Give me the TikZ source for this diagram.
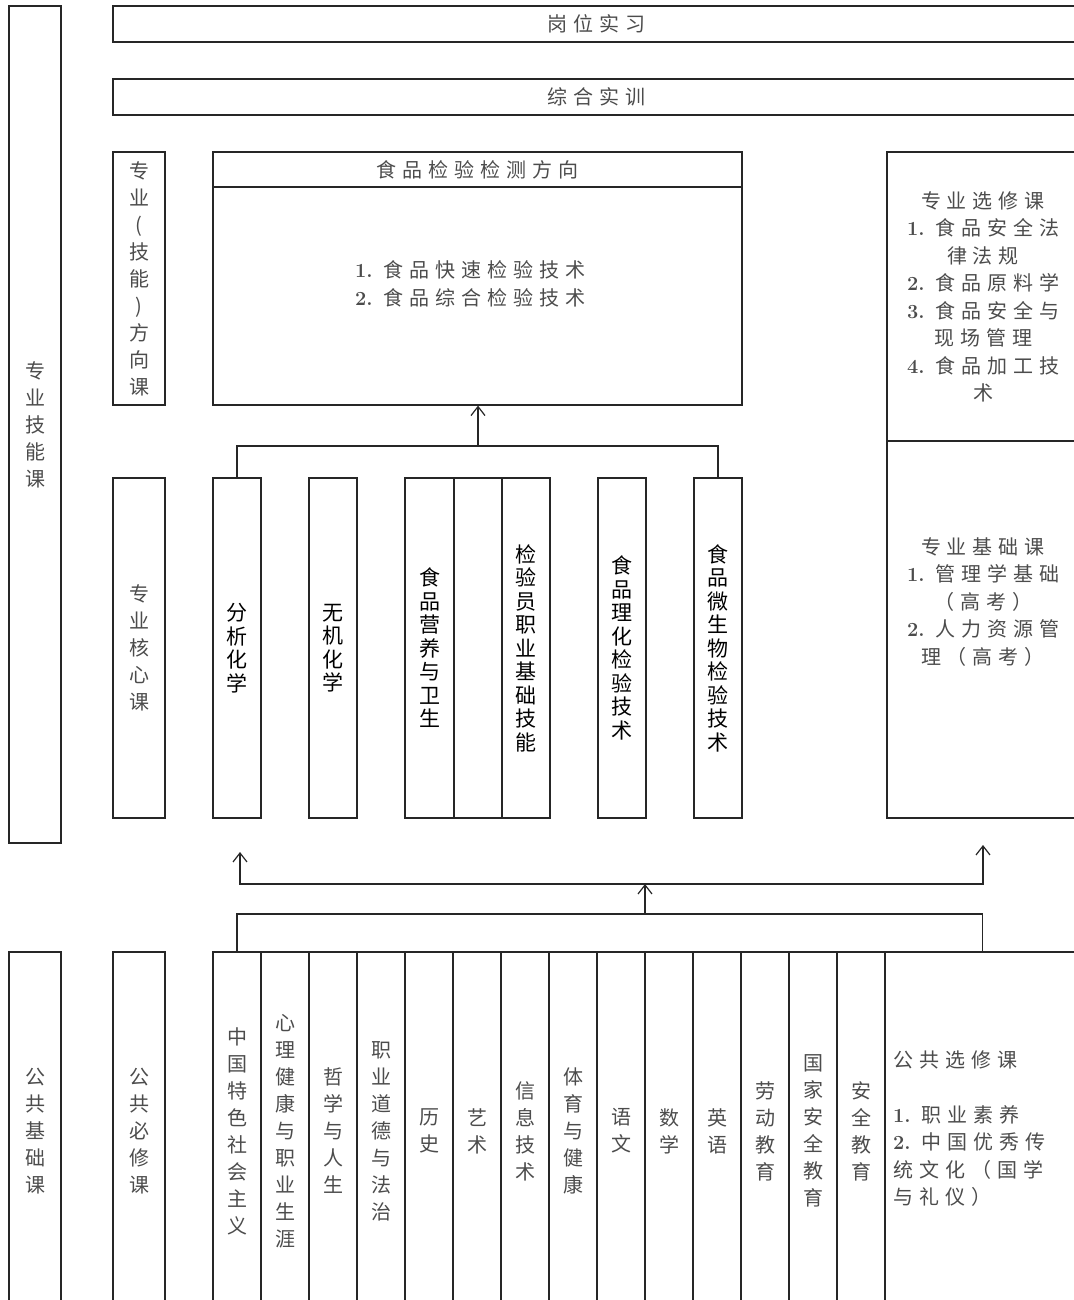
\documentclass[tikz,border=0pt]{standalone}
\usepackage{fontspec}
\setmainfont{Noto Sans CJK SC}
\newfontfamily\widecjk[LetterSpace=30]{Noto Sans CJK SC}
\newfontfamily\numfont{Latin Modern Roman}
\newcommand{\nr}[1]{{\numfont\bfseries #1}\ }
\usetikzlibrary{arrows.meta}

\tikzset{
  frame/.style={draw=black!85, line width=1.2pt, inner sep=0pt},
  lab/.style={text=black!70, align=center, font=\fontsize{20}{27}\selectfont},
  wide/.style={text=black!70, inner sep=0pt, font=\widecjk\fontsize{20}{27.5}\selectfont},
  course/.style={frame, minimum width=48pt, minimum height=340pt, align=center, font=\fontsize{21}{23.5}\selectfont},
  pub/.style={frame, lab, minimum width=48pt, minimum height=358pt},
  link/.style={line width=1.2pt, black!85},
  arrow/.style={link, -{Straight Barb[length=9pt,width=14pt]}}
}

\begin{document}
\begin{tikzpicture}[x=1pt,y=-1pt]
  \useasboundingbox (0,0) rectangle (1073,1300);
  % left column
  \node[frame, lab, minimum width=52pt, minimum height=837pt] (zyjn) at (35,424.5) {专\\业\\技\\能\\课};
  \node[frame, lab, minimum width=52pt, minimum height=358pt] (ggjc) at (35,1131) {公\\共\\基\\础\\课};

  % top bars
  \node[frame, wide, minimum width=967pt, minimum height=36pt] (gwsx) at (596.5,24) {岗位实习};
  \node[frame, wide, minimum width=967pt, minimum height=36pt] (zhsx) at (596.5,97) {综合实训};

  % direction courses
  \node[frame, lab, minimum width=52pt, minimum height=253pt] (fxk) at (139,278.5) {专\\业\\(\\技\\能\\)\\方\\向\\课};
  \node[frame, wide, minimum width=529pt, minimum height=35pt] (fxhead) at (477.5,169.5) {食品检验检测方向};
  \node[frame, minimum width=529pt, minimum height=218pt] (fxbody) at (477.5,296) {};
  \node[wide, align=left] (fxtext) at (470,284) {\nr{1.}食品快速检验技术\\\nr{2.}食品综合检验技术};

  % right column
  \node[frame, minimum width=193pt, minimum height=289pt] (xxk) at (983.5,296.5) {};
  \node[wide, align=center] (xxtext) at (983,297) {专业选修课\\\nr{1.}食品安全法\\律法规\\\nr{2.}食品原料学\\\nr{3.}食品安全与\\现场管理\\\nr{4.}食品加工技\\术};
  \node[frame, minimum width=193pt, minimum height=377pt] (jck) at (983.5,629.5) {};
  \node[wide, align=center] (jctext) at (983,602) {专业基础课\\\nr{1.}管理学基础\\（高考）\\\nr{2.}人力资源管\\理（高考）};

  % core courses
  \node[frame, lab, minimum width=52pt, minimum height=340pt] (hxk) at (139,648) {专\\业\\核\\心\\课};
  \node[course] (fxhx) at (237,648) {分\\析\\化\\学};
  \node[course] (wjhx) at (333,648) {无\\机\\化\\学};
  \node[course, minimum width=49pt] (yyws) at (429.5,648) {食\\品\\营\\养\\与\\卫\\生};
  \node[course] (kong) at (478,648) {};
  \node[course] (jyy) at (526,648) {检\\验\\员\\职\\业\\基\\础\\技\\能};
  \node[course] (lhjy) at (622,648) {食\\品\\理\\化\\检\\验\\技\\术};
  \node[course] (wsjy) at (718,648) {食\\品\\微\\生\\物\\检\\验\\技\\术};

  \coordinate (hub) at (478,446);
  \draw[link] (fxhx.north) |- (hub) -| (wsjy.north);
  \draw[arrow] (hub) -- (hub |- fxbody.south);

  % public courses
  \node[frame, lab, minimum width=52pt, minimum height=358pt] (ggbx) at (139,1131) {公\\共\\必\\修\\课};
  \node[pub] (zgts) at (237,1131) {中\\国\\特\\色\\社\\会\\主\\义};
  \node[pub] (xljk) at (285,1131) {心\\理\\健\\康\\与\\职\\业\\生\\涯};
  \node[pub] (zxrs) at (333,1131) {哲\\学\\与\\人\\生};
  \node[pub] (zydd) at (381,1131) {职\\业\\道\\德\\与\\法\\治};
  \node[pub] (ls) at (429,1131) {历\\史};
  \node[pub] (ys) at (477,1131) {艺\\术};
  \node[pub] (xxjs) at (525,1131) {信\\息\\技\\术};
  \node[pub] (tyjk) at (573,1131) {体\\育\\与\\健\\康};
  \node[pub] (yw) at (621,1131) {语\\文};
  \node[pub] (sx) at (669,1131) {数\\学};
  \node[pub] (yy) at (717,1131) {英\\语};
  \node[pub] (ldjy) at (765,1131) {劳\\动\\教\\育};
  \node[pub] (gjaq) at (813,1131) {国\\家\\安\\全\\教\\育};
  \node[pub] (aqjy) at (861,1131) {安\\全\\教\\育};
  \node[frame, minimum width=195pt, minimum height=358pt] (ggxx) at (982.5,1131) {};
  \node[wide, align=left, anchor=west] (ggxxtext) at (893,1129) {公共选修课\\[27pt]\nr{1.}职业素养\\\nr{2.}中国优秀传\\统文化（国学\\与礼仪）};

  \coordinate (mid) at (645,914);
  \coordinate (top) at (645,884);
  \coordinate (upl) at (240,852);
  \coordinate (upr) at (983,845);
  \draw[link] (zgts.north) |- (mid) -| (ggxx.north);
  \draw[arrow] (mid) -- (top);
  \draw[arrow] (top) -| (upl);
  \draw[arrow] (top) -| (upr);
\end{tikzpicture}
\end{document}
